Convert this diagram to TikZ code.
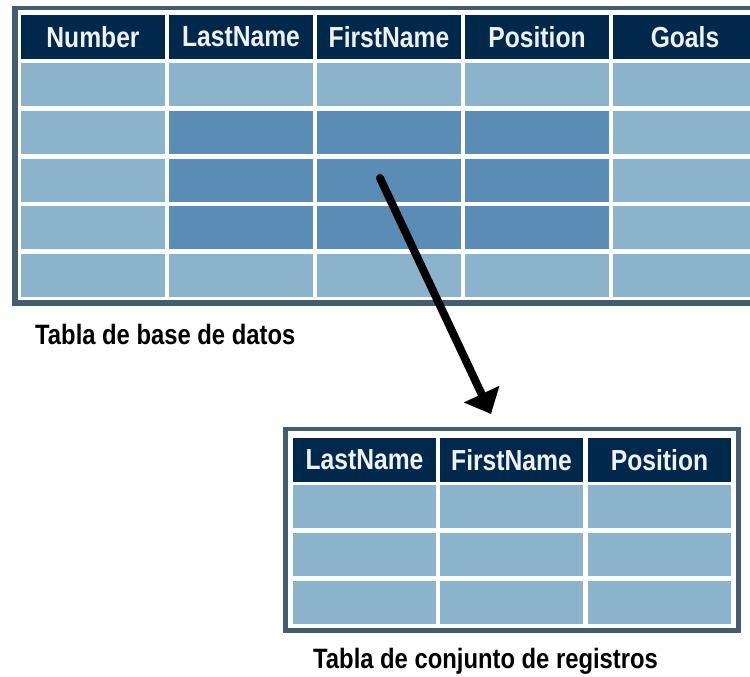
\documentclass[tikz,border=0pt]{standalone}
\usepackage{fontspec}
\setmainfont{Liberation Sans}[FakeStretch=0.85]
\usetikzlibrary{arrows.meta}
\definecolor{hdrblue}{HTML}{00284A}
\definecolor{celllight}{HTML}{8BB3CC}
\definecolor{celldark}{HTML}{5B8CB5}
\definecolor{framegray}{HTML}{455C6C}
\definecolor{hdrtext}{HTML}{EEF2F5}
\tikzset{
  cellbox/.style={anchor=north west, inner sep=0pt, outer sep=0pt, minimum height=43pt},
  hdrcell/.style={cellbox, fill=hdrblue, text=hdrtext, minimum height=44pt,
    font=\bfseries\fontsize{29}{32}\selectfont},
  caption/.style={anchor=west, inner sep=0pt, font=\bfseries\fontsize{28}{32}\selectfont},
  frame/.style={fill=framegray},
  bigarrow/.style={line width=8pt, line cap=round, -{Triangle[length=22pt,width=38pt]}}
}
\begin{document}
\begin{tikzpicture}[x=1pt,y=-1pt]
  \clip (0,0) rectangle (750,677);
  \fill[white] (0,0) rectangle (750,677);

  % database table: frame, white inner area, header and five rows
  \fill[frame] (12,6) rectangle (780,306);
  \fill[white] (18,10) rectangle (775,300);
  \foreach \c/\x/\t in {1/21/Number,2/169/LastName,3/317/FirstName,4/465/Position,5/613/Goals}{
    \node[hdrcell, minimum width=144pt] (t-h\c) at (\x,15) {\t};
    \foreach \r in {1,...,5}{
      \pgfmathtruncatemacro\isdark{and(and(\r>1,\r<5),and(\c>1,\c<5))}
      \ifnum\isdark=1 \def\cc{celldark}\else\def\cc{celllight}\fi
      \node[cellbox, fill=\cc, minimum width=144pt] (t-r\r-c\c) at (\x,{63+47.8*(\r-1)}) {};
    }
  }
  \node[caption] (cap-top) at (35,334) {Tabla de base de datos};

  % recordset table
  \fill[frame] (283,427) rectangle (741,633);
  \fill[white] (288,431) rectangle (736,628);
  \foreach \c/\x/\t in {1/293/LastName,2/440/FirstName,3/588/Position}{
    \node[hdrcell, minimum width=143pt] (s-h\c) at (\x,438) {\t};
    \foreach \r in {1,2,3}{
      \node[cellbox, fill=celllight, minimum width=143pt] (s-r\r-c\c) at (\x,{485+48*(\r-1)}) {};
    }
  }
  \node[caption] (cap-rs) at (313,661) {Tabla de conjunto de registros};

  % selection arrow
  \coordinate (src) at (380,178);
  \coordinate (dst) at (491,414);
  \draw[bigarrow] (src) -- (dst);
\end{tikzpicture}
\end{document}
